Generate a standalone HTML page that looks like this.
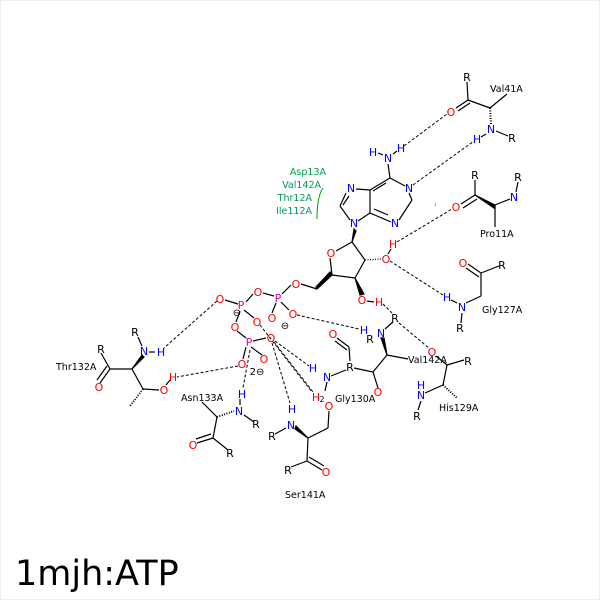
<!DOCTYPE html>
<html><head><meta charset="utf-8"><style>
body{margin:0;background:#fff}
svg text{font-family:"DejaVu Sans","Liberation Sans",sans-serif}
</style></head><body>
<svg width="600" height="600" viewBox="0 0 600 600" xmlns="http://www.w3.org/2000/svg">
<rect x="0.5" y="0.5" width="599" height="599" fill="#fff" stroke="#eee"/>
<g stroke="#000" stroke-width="1.2" fill="none">
<!-- adenine -->
<line x1="388" y1="164" x2="390" y2="178"/>
<line x1="378" y1="153" x2="383" y2="155"/>
<line x1="393" y1="154" x2="397" y2="151"/>
<line x1="390" y1="178" x2="405" y2="186"/>
<line x1="390" y1="178" x2="370" y2="190"/>
<line x1="386" y1="183" x2="373" y2="191"/>
<line x1="370" y1="190" x2="356" y2="189"/>
<line x1="370" y1="190" x2="370" y2="213"/>
<line x1="370" y1="213" x2="391" y2="222"/>
<line x1="374" y1="209" x2="388" y2="215"/>
<line x1="370" y1="213" x2="358" y2="221"/>
<line x1="409" y1="193" x2="412" y2="200"/>
<line x1="412" y1="200" x2="399" y2="220"/>
<line x1="346" y1="193" x2="340" y2="206"/>
<line x1="340" y1="206" x2="350" y2="220"/>
<line x1="343" y1="205" x2="349" y2="196"/>
<!-- ribose -->
<polygon points="352,242 354,229 356,231" fill="#000"/>
<line x1="352" y1="242" x2="336" y2="251"/>
<line x1="352" y1="242" x2="365" y2="260"/>
<line x1="365" y1="260" x2="355" y2="278"/>
<line x1="355" y1="278" x2="332" y2="275"/>
<line x1="332" y1="275" x2="330" y2="258"/>
<polygon points="332,275 317,289 316,287 330,272" fill="#000"/>
<line x1="317" y1="289" x2="301" y2="284"/>
<line x1="365" y1="260" x2="381" y2="259" stroke-dasharray="1,1.5"/>
<line x1="388" y1="254" x2="391" y2="249"/>
<line x1="367" y1="301" x2="374" y2="302"/>
<polygon points="355,278 360,295 364,294" fill="#000"/>
<!-- phosphates -->
<line x1="291" y1="285" x2="282" y2="294"/>
<line x1="274" y1="296" x2="263" y2="293"/>
<line x1="253" y1="294" x2="246" y2="302"/>
<line x1="238" y1="304" x2="225" y2="300"/>
<line x1="276" y1="303" x2="272" y2="313"/>
<line x1="281" y1="302" x2="289" y2="310"/>
<line x1="244" y1="310" x2="254" y2="318"/>
<line x1="240" y1="311" x2="236" y2="322"/>
<line x1="237" y1="331" x2="246" y2="338"/>
<line x1="253" y1="341" x2="266" y2="338"/>
<line x1="251" y1="347" x2="262" y2="355"/>
<line x1="246" y1="347" x2="243" y2="359"/>
<!-- Thr132A -->
<line x1="138" y1="337" x2="142" y2="346"/>
<line x1="149" y1="352" x2="155" y2="352"/>
<polygon points="132,369 142,355 144,357" fill="#000"/>
<line x1="132" y1="369" x2="110" y2="369"/>
<line x1="110" y1="369" x2="101" y2="353"/>
<line x1="110" y1="369" x2="100" y2="383"/>
<line x1="107" y1="366" x2="97" y2="380"/>
<line x1="132" y1="369" x2="143" y2="389"/>
<line x1="143" y1="389" x2="159" y2="390"/>
<line x1="166" y1="385" x2="170" y2="380"/>
<line x1="143" y1="389" x2="130" y2="406" stroke-dasharray="1,1.5" stroke-width="2"/>
<!-- Asn133A -->
<line x1="202" y1="402" x2="217" y2="417"/>
<line x1="217" y1="417" x2="234" y2="411" stroke-dasharray="1,1.5" stroke-width="2"/>
<line x1="244" y1="415" x2="254" y2="422"/>
<line x1="240" y1="399" x2="240" y2="405"/>
<line x1="217" y1="417" x2="213" y2="438"/>
<line x1="213" y1="438" x2="197" y2="443"/>
<line x1="211" y1="434" x2="196" y2="439"/>
<line x1="213" y1="438" x2="228" y2="450"/>
<!-- Ser141A -->
<line x1="286" y1="428" x2="275" y2="434"/>
<polygon points="308,438 296,426 295,429" fill="#000"/>
<line x1="308" y1="438" x2="328" y2="428"/>
<line x1="328" y1="428" x2="329" y2="411"/>
<line x1="308" y1="438" x2="307" y2="461"/>
<line x1="307" y1="461" x2="322" y2="470"/>
<line x1="309" y1="457" x2="324" y2="466"/>
<line x1="307" y1="461" x2="291" y2="467"/>
<!-- Gly130A -->
<line x1="327" y1="382" x2="325" y2="391"/>
<line x1="331" y1="376" x2="346" y2="370"/>
<line x1="350" y1="361" x2="349" y2="347"/>
<line x1="349" y1="347" x2="337" y2="338"/>
<line x1="347" y1="350" x2="335" y2="341"/>
<line x1="354" y1="368" x2="373" y2="372"/>
<line x1="373" y1="372" x2="378" y2="388"/>
<line x1="373" y1="372" x2="387" y2="355"/>
<!-- Val142A lower -->
<line x1="385" y1="329" x2="393" y2="322"/>
<polygon points="387,355 381,338 384,338" fill="#000"/>
<line x1="387" y1="355" x2="408" y2="359"/>
<!-- His129A -->
<line x1="436" y1="356" x2="447" y2="365"/>
<line x1="447" y1="365" x2="464" y2="360"/>
<line x1="447" y1="365" x2="443" y2="385"/>
<line x1="443" y1="385" x2="425" y2="393"/>
<line x1="443" y1="385" x2="457" y2="398" stroke-dasharray="1,1.5" stroke-width="2"/>
<line x1="421" y1="401" x2="418" y2="410"/>
<!-- Gly127A -->
<line x1="466" y1="303" x2="481" y2="296"/>
<line x1="481" y1="296" x2="481" y2="273"/>
<line x1="481" y1="273" x2="468" y2="264"/>
<line x1="479" y1="277" x2="466" y2="268"/>
<line x1="481" y1="273" x2="499" y2="266"/>
<line x1="462" y1="313" x2="461" y2="323"/>
<line x1="451" y1="300" x2="457" y2="303"/>
<!-- Val41A -->
<line x1="467" y1="82" x2="468" y2="100"/>
<line x1="468" y1="100" x2="456" y2="108"/>
<line x1="470" y1="103" x2="458" y2="111"/>
<line x1="468" y1="100" x2="490" y2="108"/>
<line x1="490" y1="108" x2="507" y2="94"/>
<line x1="490" y1="108" x2="491" y2="124" stroke-dasharray="1,1.5" stroke-width="2"/>
<line x1="496" y1="131" x2="508" y2="136"/>
<line x1="481" y1="137" x2="486" y2="134"/>
<!-- Pro11A -->
<line x1="475" y1="180" x2="475" y2="195"/>
<line x1="475" y1="195" x2="461" y2="204"/>
<line x1="477" y1="199" x2="463" y2="208"/>
<polygon points="475,195 495,205 494,208" fill="#000"/>
<line x1="495" y1="205" x2="510" y2="199"/>
<line x1="495" y1="205" x2="495" y2="227"/>
<line x1="516" y1="192" x2="518" y2="182"/>
</g>
<!-- H-bonds -->
<g stroke="#000" stroke-width="1" stroke-dasharray="3,2" fill="none">
<line x1="404" y1="146" x2="447" y2="114"/>
<line x1="413" y1="185" x2="474" y2="141"/>
<line x1="397" y1="242" x2="452" y2="209"/>
<line x1="390" y1="261" x2="443" y2="295"/>
<line x1="383" y1="304" x2="392" y2="313"/>
<line x1="399" y1="323" x2="430" y2="349"/>
<line x1="217" y1="301" x2="164" y2="348"/>
<line x1="297" y1="315" x2="359" y2="329"/>
<line x1="238" y1="366" x2="177" y2="377"/>
<line x1="250" y1="350" x2="243" y2="388"/>
<line x1="275" y1="341" x2="309" y2="366"/>
<line x1="274" y1="342" x2="313" y2="392"/>
<line x1="272" y1="343" x2="290" y2="403"/>
<line x1="260" y1="325" x2="312" y2="392"/>
</g>
<!-- green -->
<path d="M323,188 Q317,196 317,219" stroke="#009900" stroke-width="1" fill="none"/>
<g font-size="9.5" fill="#009955" text-anchor="end">
<text x="326" y="175">Asp13A</text>
<text x="321" y="188">Val142A</text>
<text x="312" y="201">Thr12A</text>
<text x="312" y="214">Ile112A</text>
</g>
<text x="434" y="210" font-size="9" fill="#009955">'</text>
<!-- atoms -->
<g font-size="11" text-anchor="middle">
<g fill="#0000ff">
<text x="388" y="162">N</text><text x="373" y="156">H</text><text x="401" y="152">H</text>
<text x="351" y="192">N</text><text x="409" y="192">N</text><text x="354" y="227">N</text><text x="395" y="227">N</text>
<text x="144" y="355">N</text><text x="161" y="356">H</text>
<text x="239" y="415">N</text><text x="242" y="398">H</text>
<text x="291" y="429">N</text><text x="292" y="413">H</text>
<text x="327" y="381">N</text><text x="313" y="372">H</text>
<text x="381" y="337">N</text><text x="364" y="334">H</text>
<text x="421" y="399">N</text><text x="421" y="389">H</text>
<text x="462" y="311">N</text><text x="447" y="301">H</text>
<text x="491" y="133">N</text><text x="477" y="143">H</text>
<text x="514" y="201">N</text>
</g>
<g fill="#ff0000">
<text x="331" y="257">O</text><text x="386" y="263">O</text><text x="393" y="248">H</text>
<text x="362" y="304">O</text><text x="379" y="306">H</text>
<text x="296" y="288">O</text><text x="258" y="296">O</text><text x="220" y="303">O</text>
<text x="272" y="322">O</text><text x="293" y="318">O</text><text x="257" y="326">O</text>
<text x="235" y="331">O</text><text x="271" y="342">O</text><text x="264" y="363">O</text><text x="242" y="368">O</text>
<text x="99" y="391">O</text><text x="164" y="394">O</text><text x="173" y="381">H</text>
<text x="193" y="449">O</text><text x="329" y="410">O</text><text x="326" y="476">O</text>
<text x="316" y="401">H</text>
<text x="333" y="338">O</text><text x="378" y="396">O</text><text x="432" y="356">O</text>
<text x="463" y="267">O</text><text x="451" y="116">O</text><text x="456" y="211">O</text>
</g>
<g fill="#dd0099">
<text x="278" y="302">P</text><text x="241" y="309">P</text><text x="249" y="346">P</text>
</g>
<g fill="#000">
<text x="135" y="336">R</text><text x="101" y="353">R</text><text x="256" y="428">R</text><text x="230" y="457">R</text>
<text x="272" y="440">R</text><text x="288" y="474">R</text><text x="350" y="371">R</text><text x="370" y="343">R</text>
<text x="395" y="322">R</text><text x="468" y="365">R</text><text x="417" y="420">R</text><text x="502" y="269">R</text>
<text x="460" y="332">R</text><text x="467" y="81">R</text><text x="512" y="142">R</text><text x="475" y="179">R</text><text x="518" y="181">R</text>
</g>
<g fill="#000" font-size="10">
<text x="285" y="329">⊖</text><text x="237" y="316">⊖</text><text x="257" y="375">2⊖</text>
<text x="322" y="402" font-size="8">2</text>
</g>
</g>
<g font-size="9.5" fill="#000">
<text x="56" y="370">Thr132A</text>
<text x="181" y="401">Asn133A</text>
<text x="285" y="498">Ser141A</text>
<text x="335" y="402">Gly130A</text>
<text x="408" y="363">Val142A</text>
<text x="439" y="411">His129A</text>
<text x="482" y="313">Gly127A</text>
<text x="490" y="92">Val41A</text>
<text x="480" y="237">Pro11A</text>
</g>
<text x="15" y="585" font-size="35" fill="#000">1mjh:ATP</text>
</svg>
</body></html>
